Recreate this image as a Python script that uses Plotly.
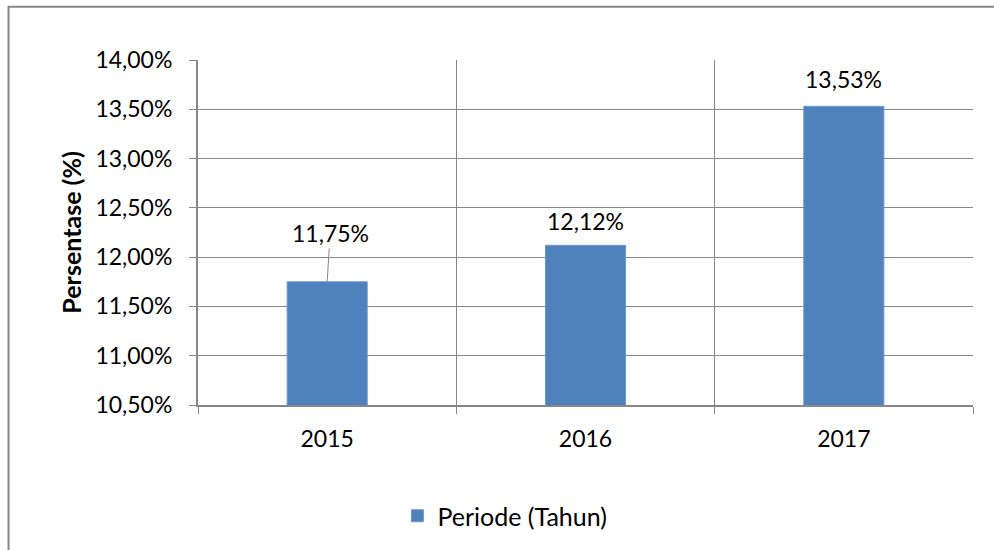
import plotly.graph_objects as go

categories = ["2015", "2016", "2017"]
values = [0.1175, 0.1212, 0.1353]
series_name = "Periode (Tahun)"
y_ticks = [0.105, 0.11, 0.115, 0.12, 0.125, 0.13, 0.135, 0.14]
label_offsets = [(3, -49), (0, -24), (0, -27)]  # pixel offsets of value labels

FONT = "Lato"
FS = 23
GRID = "#878787"
BLUE = "#4F81BD"

fig = go.Figure()
fig.add_trace(go.Bar(
    x=categories, y=values, name=series_name, width=0.31,
    marker=dict(color=BLUE, line=dict(color="#6E98CC", width=1)),
    showlegend=True, hoverinfo="skip",
))

for i, (cat, val, (ax, ay)) in enumerate(zip(categories, values, label_offsets)):
    txt = f"{val*100:.2f}%".replace(".", ",")
    if i == 0:
        fig.add_annotation(x=i, y=val, text=txt, showarrow=True, arrowhead=0,
                           arrowwidth=1, arrowcolor=GRID, ax=ax, ay=ay,
                           standoff=0, font=dict(family=FONT, size=FS, color="black"))
    else:
        fig.add_annotation(x=i, y=val, text=txt, showarrow=False, yshift=-ay,
                           font=dict(family=FONT, size=FS, color="black"))

fig.add_annotation(xref="paper", yref="paper", x=-0.165, y=0.5, xanchor="center", yanchor="middle",
                   text="<b>Persentase (%)</b>",
                   textangle=-90, showarrow=False,
                   font=dict(family=FONT, size=25, color="black", weight=700))

# outer chart border
fig.add_shape(type="rect", xref="paper", yref="paper", x0=-0.2445, x1=1.2, y0=-0.5, y1=1.1546,
              line=dict(color="#878787", width=2), fillcolor="rgba(0,0,0,0)", layer="below")

fig.update_layout(
    width=994, height=550,
    margin=dict(l=198, r=21, t=60, b=144),
    paper_bgcolor="white", plot_bgcolor="white",
    separators=",.",
    font=dict(family=FONT, size=FS, color="black"),
    showlegend=True,
    legend=dict(orientation="h", x=0.396, xanchor="center", y=-0.318, yanchor="middle",
                font=dict(family=FONT, size=25, color="black"), itemwidth=30),
    xaxis=dict(type="category", tickson="boundaries", showgrid=True, gridcolor=GRID, gridwidth=1,
               ticks="outside", ticklen=7, tickcolor=GRID, showline=True, linecolor=GRID, linewidth=2,
               ticklabelstandoff=12, range=[-0.5, 2.5], fixedrange=True),
    yaxis=dict(range=[0.105, 0.14], tickvals=y_ticks, tickformat=".2%", showgrid=True,
               gridcolor=GRID, gridwidth=1, ticks="outside", ticklen=7, tickcolor=GRID,
               showline=True, linecolor=GRID, linewidth=2, ticklabelstandoff=12,
               zeroline=False, fixedrange=True),
)

fig.write_html("out.html", post_script="document.body.style.margin='0px';",
               config={"displayModeBar": False})
